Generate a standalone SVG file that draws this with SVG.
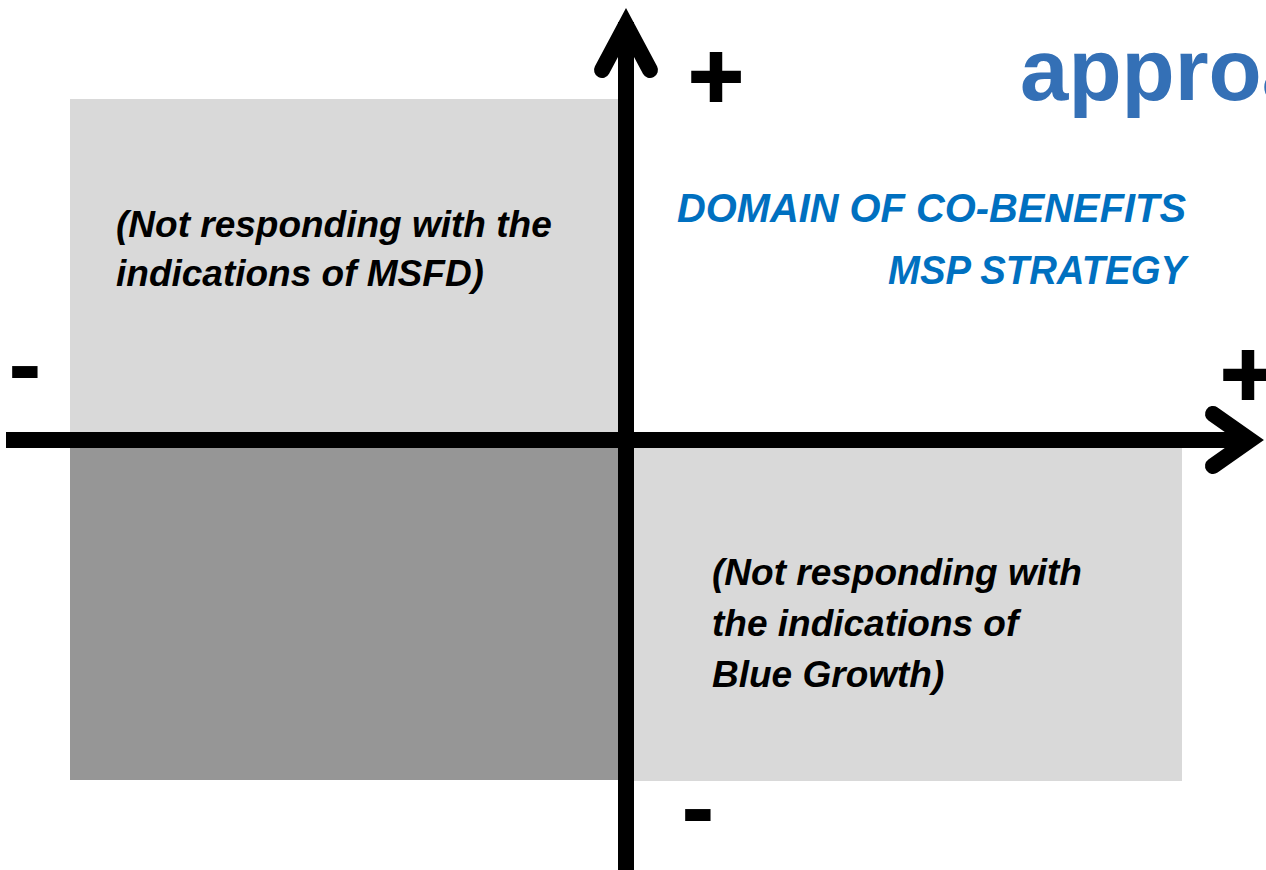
<svg xmlns="http://www.w3.org/2000/svg" width="1266" height="870" viewBox="0 0 1266 870">
<style>
.lt{fill:#d9d9d9}
.dk{fill:#969696}
.note{font-family:"Liberation Sans",Arial,sans-serif;font-weight:bold;font-style:italic;font-size:37px;fill:#000}
.blue{font-family:"Liberation Sans",Arial,sans-serif;font-weight:bold;font-style:italic;font-size:40px;fill:#0070c0}
.sign{font-family:"Liberation Sans",Arial,sans-serif;font-weight:bold;fill:#000;text-anchor:middle}
.axis{stroke:#000;stroke-width:16;fill:none}
.head{stroke:#000;stroke-width:16;fill:none;stroke-linecap:round;stroke-linejoin:miter;stroke-miterlimit:10}
</style>
<rect width="1266" height="870" fill="#fff"/>
<g id="quadrant-top-left"><rect class="lt" x="70" y="99" width="556" height="341"/>
<text class="note" x="116" y="237">(Not responding with the</text>
<text class="note" x="116" y="286">indications of MSFD)</text></g>
<g id="quadrant-bottom-left"><rect class="dk" x="70" y="440" width="556" height="340"/></g>
<g id="quadrant-bottom-right"><rect class="lt" x="626" y="440" width="556" height="341"/>
<text class="note" x="712" y="585">(Not responding with</text>
<text class="note" x="712" y="636">the indications of</text>
<text class="note" x="712" y="687">Blue Growth)</text></g>
<g id="quadrant-top-right">
<text class="blue" x="1186" y="222" text-anchor="end" textLength="509" lengthAdjust="spacingAndGlyphs">DOMAIN OF CO-BENEFITS</text>
<text class="blue" x="1186" y="284" text-anchor="end" textLength="298" lengthAdjust="spacingAndGlyphs">MSP STRATEGY</text></g>
<g id="title"><text x="1020" y="100" font-family="Liberation Sans,Arial,sans-serif" font-weight="bold" font-size="87" fill="#3470b6">approa</text></g>
<g id="connectors">
<line class="axis" x1="6" y1="440" x2="1252" y2="440"/>
<line class="axis" x1="626" y1="870" x2="626" y2="22"/>
<polyline class="head" points="602,70 626,25 650,70"/>
<polyline class="head" points="1213,414 1250,440 1213,466"/>
</g>
<g id="signs">
<text class="sign" x="716" y="108" font-size="95" stroke="#000" stroke-width="2">+</text>
<text class="sign" x="1248" y="406" font-size="95" stroke="#000" stroke-width="2">+</text>
<text class="sign" x="25" y="398" font-size="100">-</text>
<text class="sign" x="698" y="841" font-size="100">-</text>
</g>
</svg>
